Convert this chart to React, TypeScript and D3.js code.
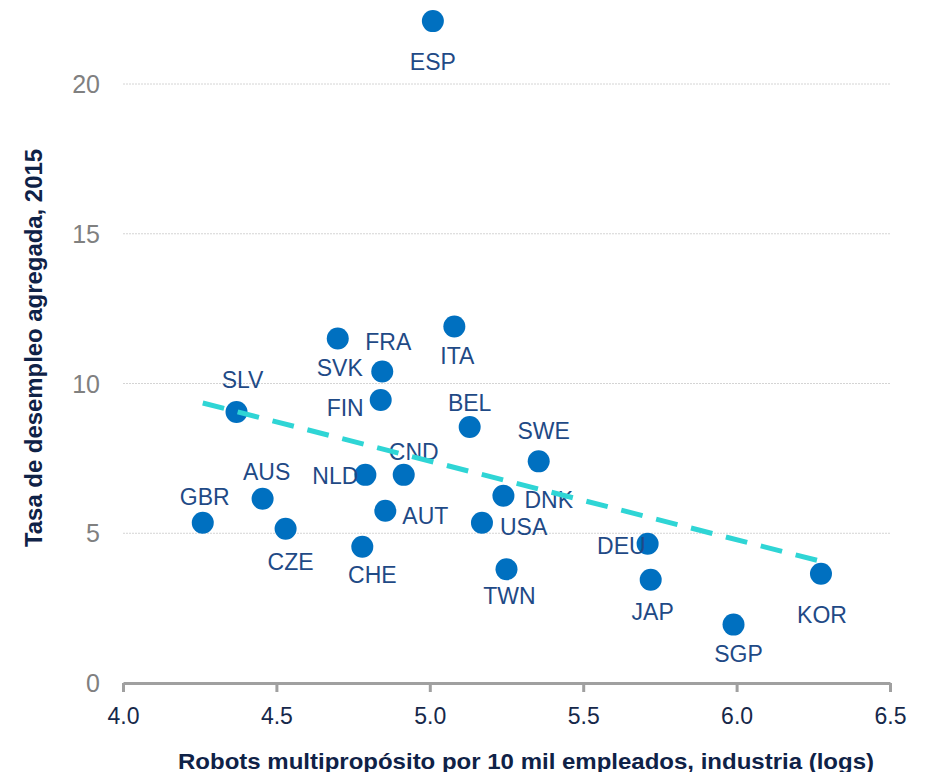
import { useEffect, useRef } from "react";
import * as d3 from "d3";

// Datos
const countries = ["ESP", "ITA", "SVK", "FRA", "FIN", "SLV", "BEL", "SWE", "NLD", "CND", "DNK", "AUS", "AUT", "USA", "GBR", "CZE", "CHE", "DEU", "TWN", "JAP", "KOR", "SGP"];
const robots = [5.01, 5.08, 4.70, 4.845, 4.84, 4.37, 5.13, 5.355, 4.79, 4.915, 5.24, 4.455, 4.855, 5.17, 4.26, 4.53, 4.78, 5.71, 5.25, 5.72, 6.275, 5.99];
const unemployment = [22.1, 11.9, 11.5, 10.4, 9.45, 9.05, 8.55, 7.4, 6.95, 6.95, 6.25, 6.15, 5.75, 5.35, 5.35, 5.15, 4.55, 4.65, 3.8, 3.45, 3.65, 1.95];
// posición de la etiqueta respecto al punto: [dx, dy de la línea base, anclaje]
const labelPlacement: [number, number, string][] = [
  [0, 49, "middle"], [3, 37, "middle"], [2, 37, "middle"], [6, -22, "middle"],
  [-17, 16, "end"], [6, -24, "middle"], [0, -16, "middle"], [5, -22, "middle"],
  [-7, 9, "end"], [10, -15, "middle"], [21, 12, "start"], [4, -19, "middle"],
  [17, 13, "start"], [18, 12, "start"], [2, -18, "middle"], [5, 41, "middle"],
  [10, 36, "middle"], [-2, 10, "end"], [3, 35, "middle"], [2, 40, "middle"],
  [1, 49, "middle"], [5, 37, "middle"],
];
const trendX = [4.26, 6.28];
const trendY = [9.35, 4.05];
const xTicks = [4.0, 4.5, 5.0, 5.5, 6.0, 6.5];
const yTicks = [0, 5, 10, 15, 20];

export default function App() {
  const svgRef = useRef<SVGSVGElement>(null);

  useEffect(() => {
    if (!svgRef.current) return;
    const svg = d3.select(svgRef.current);
    svg.selectAll("*").remove();

    const font = "'Liberation Sans', Arial, sans-serif";
    const x = d3.scaleLinear().domain([4.0, 6.5]).range([123, 890]);
    const y = d3.scaleLinear().domain([0, 20]).range([683, 84]);

    // Grille horizontale pointillée
    svg.append("g")
      .selectAll("line")
      .data(yTicks.filter((d) => d > 0))
      .enter()
      .append("line")
      .attr("x1", x(4.0))
      .attr("x2", x(6.5))
      .attr("y1", (d) => y(d))
      .attr("y2", (d) => y(d))
      .style("stroke", "#d4d4d4")
      .style("stroke-width", 1)
      .style("stroke-dasharray", "2,1");

    // Etiquetas eje Y
    svg.append("g")
      .selectAll("text")
      .data(yTicks)
      .enter()
      .append("text")
      .attr("x", 100)
      .attr("y", (d) => y(d))
      .attr("dy", "0.36em")
      .attr("text-anchor", "end")
      .style("font-family", font)
      .style("font-size", "25px")
      .style("fill", "#808080")
      .text((d) => d);

    // Eje X
    const xAxis = svg.append("g")
      .attr("transform", `translate(0,${y(0)})`)
      .call(d3.axisBottom(x).tickValues(xTicks).tickSize(9).tickSizeOuter(0).tickFormat(d3.format(".1f")));
    xAxis.select(".domain").style("stroke", "#a0a0a0").style("stroke-width", 3);
    xAxis.selectAll(".tick line").style("stroke", "#a0a0a0").style("stroke-width", 3);
    xAxis.selectAll(".tick text")
      .attr("y", 25)
      .attr("dy", "0.71em")
      .style("font-family", font)
      .style("font-size", "23px")
      .style("fill", "#16284a");

    // Títulos de ejes
    svg.append("text")
      .attr("x", 526)
      .attr("y", 769)
      .attr("text-anchor", "middle")
      .attr("textLength", 696)
      .attr("lengthAdjust", "spacingAndGlyphs")
      .style("font-family", font)
      .style("font-weight", "bold")
      .style("font-size", "22px")
      .style("fill", "#0f2247")
      .text("Robots multipropósito por 10 mil empleados, industria (logs)");

    svg.append("text")
      .attr("transform", "translate(42,348) rotate(-90)")
      .attr("text-anchor", "middle")
      .attr("textLength", 398)
      .attr("lengthAdjust", "spacingAndGlyphs")
      .style("font-family", font)
      .style("font-weight", "bold")
      .style("font-size", "23px")
      .style("fill", "#0f2247")
      .text("Tasa de desempleo agregada, 2015");

    // Puntos
    svg.append("g")
      .selectAll("circle")
      .data(countries)
      .enter()
      .append("circle")
      .attr("cx", (_, i) => x(robots[i]))
      .attr("cy", (_, i) => y(unemployment[i]))
      .attr("r", 11)
      .style("fill", "#0070c0");

    // Etiquetas de países
    svg.append("g")
      .selectAll("text")
      .data(countries)
      .enter()
      .append("text")
      .attr("x", (_, i) => x(robots[i]) + labelPlacement[i][0])
      .attr("y", (_, i) => y(unemployment[i]) + labelPlacement[i][1])
      .attr("text-anchor", (_, i) => labelPlacement[i][2])
      .style("font-family", font)
      .style("font-size", "23px")
      .style("fill", "#1f4a86")
      .text((d) => d);

    // Línea de tendencia
    svg.append("path")
      .datum(trendX.map((v, i) => [v, trendY[i]] as [number, number]))
      .attr("d", d3.line<[number, number]>().x((d) => x(d[0])).y((d) => y(d[1])))
      .style("fill", "none")
      .style("stroke", "#2fd5d5")
      .style("stroke-width", 5)
      .style("stroke-dasharray", "22,14");
  }, []);

  return (
    <div style={{ margin: -8 }}>
      <svg ref={svgRef} width={927} height={780} style={{ display: "block" }} />
    </div>
  );
}
